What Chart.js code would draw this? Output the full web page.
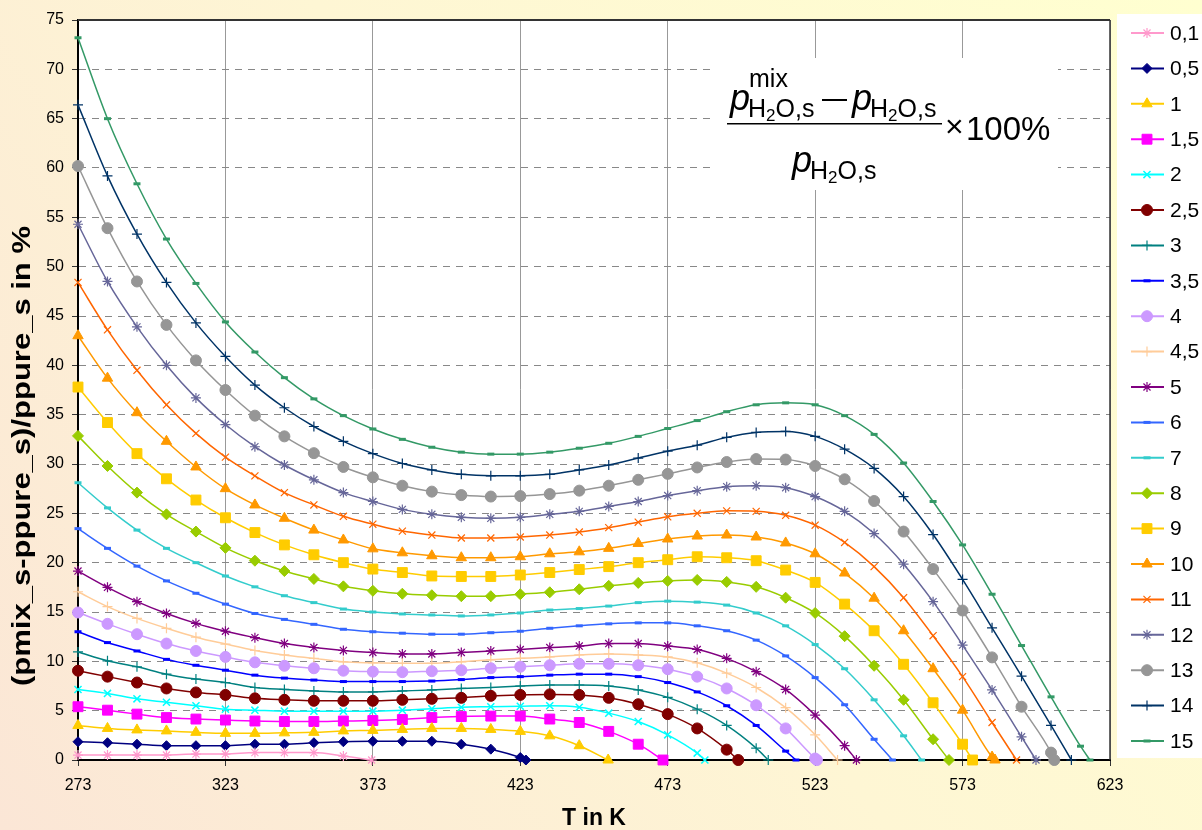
<!DOCTYPE html>
<html>
<head>
<meta charset="utf-8">
<script src="https://cdn.jsdelivr.net/npm/chart.js@4.4.1/dist/chart.umd.min.js"></script>
<style>
  html, body { margin: 0; padding: 0; background: #fff; }
  canvas { display: block; }
</style>
</head>
<body>
<canvas id="dampfdruck" width="1202" height="830"></canvas>
<script>
// Temperaturen in K (Stützstellen alle 10 K)
const temps = [273, 283, 293, 303, 313, 323, 333, 343, 353, 363, 373, 383, 393, 403, 413, 423, 433, 443,
  453, 463, 473, 483, 493, 503, 513, 523, 533, 543, 553, 563, 573, 583, 593, 603, 613];
const xTicks = [273, 323, 373, 423, 473, 523, 573, 623];

// Kurvennamen (Legende)
const seriesNames = ["0,1", "0,5", "1", "1,5", "2", "2,5", "3", "3,5", "4", "4,5", "5",
  "6", "7", "8", "9", "10", "11", "12", "13", "14", "15"];

// Abweichung in % je Kurve, ab 273 K; endT = Temperatur, bei der die Kurve 0 erreicht
const s0_1 = [0.5, 0.5, 0.5, 0.5, 0.6, 0.6, 0.75, 0.75, 0.75, 0.4];
const s0_5 = [1.85, 1.75, 1.6, 1.45, 1.45, 1.45, 1.6, 1.6, 1.75, 1.85, 1.9, 1.9, 1.9, 1.6, 1.1, 0.25];
const s1 = [3.5, 3.2, 3.05, 2.95, 2.8, 2.7, 2.7, 2.75, 2.8, 2.95, 3.0, 3.1, 3.2, 3.2, 3.1, 2.9, 2.45, 1.45];
const s1_5 = [5.4, 5.05, 4.65, 4.3, 4.15, 4.05, 3.95, 3.9, 3.9, 3.95, 4.0, 4.1, 4.3, 4.4, 4.45, 4.45,
  4.15, 3.8, 2.9, 1.6];
const s2 = [7.15, 6.75, 6.2, 5.85, 5.5, 5.15, 5.05, 4.95, 4.95, 4.95, 4.95, 5.05, 5.2, 5.35, 5.4, 5.45,
  5.5, 5.35, 4.75, 3.9, 2.55, 0.7];
const s2_5 = [9.05, 8.45, 7.85, 7.25, 6.85, 6.6, 6.25, 6.1, 6.0, 6.0, 6.0, 6.1, 6.2, 6.3, 6.5, 6.6,
  6.65, 6.6, 6.3, 5.65, 4.65, 3.2, 1.05];
const s3 = [10.95, 10.05, 9.45, 8.7, 8.2, 7.85, 7.35, 7.15, 7.0, 6.9, 6.9, 7.0, 7.1, 7.25, 7.35, 7.5,
  7.6, 7.6, 7.5, 7.1, 6.35, 5.15, 3.5, 1.2];
const s3_5 = [13.0, 11.9, 11.05, 10.2, 9.6, 9.1, 8.6, 8.3, 8.1, 7.95, 7.95, 7.95, 8.0, 8.15, 8.35, 8.45,
  8.6, 8.7, 8.7, 8.45, 7.85, 6.9, 5.5, 3.5, 0.9];
const s4 = [14.95, 13.8, 12.75, 11.8, 11.05, 10.45, 9.9, 9.55, 9.3, 9.05, 8.95, 8.9, 9.0, 9.1, 9.3, 9.45,
  9.6, 9.75, 9.75, 9.6, 9.2, 8.45, 7.25, 5.55, 3.2, 0.15];
const s4_5 = [17.05, 15.55, 14.35, 13.35, 12.45, 11.75, 11.1, 10.65, 10.3, 9.95, 9.85, 9.8, 9.8, 9.95,
  10.15, 10.3, 10.45, 10.65, 10.75, 10.65, 10.45, 9.85, 8.8, 7.35, 5.3, 2.55];
const s5 = [19.15, 17.5, 16.05, 14.85, 13.85, 13.05, 12.4, 11.8, 11.4, 11.1, 10.9, 10.75, 10.75, 10.9,
  11.05, 11.2, 11.4, 11.55, 11.8, 11.8, 11.55, 11.2, 10.3, 8.95, 7.15, 4.55, 1.45];
const s6 = [23.45, 21.45, 19.65, 18.15, 16.9, 15.8, 14.85, 14.25, 13.75, 13.25, 13.0, 12.85, 12.75, 12.75,
  12.9, 13.05, 13.35, 13.6, 13.8, 13.9, 13.9, 13.6, 13.1, 12.15, 10.55, 8.35, 5.6, 2.1];
const s7 = [28.1, 25.55, 23.3, 21.45, 20.0, 18.65, 17.55, 16.65, 15.95, 15.3, 15.0, 14.8, 14.7, 14.6,
  14.7, 14.9, 15.2, 15.35, 15.6, 15.95, 16.1, 16.0, 15.7, 14.9, 13.6, 11.7, 9.25, 6.1, 2.45];
const s8 = [32.85, 29.8, 27.1, 24.9, 23.15, 21.5, 20.2, 19.15, 18.35, 17.6, 17.15, 16.85, 16.7, 16.6,
  16.6, 16.8, 17.0, 17.3, 17.65, 17.95, 18.15, 18.25, 18.05, 17.55, 16.45, 14.9, 12.55, 9.55, 6.1, 2.1];
const s9 = [37.8, 34.2, 31.05, 28.5, 26.35, 24.55, 23.05, 21.8, 20.8, 20.0, 19.35, 19.0, 18.65, 18.6,
  18.6, 18.75, 19.0, 19.3, 19.6, 20.0, 20.3, 20.6, 20.5, 20.2, 19.25, 18.0, 15.8, 13.1, 9.7, 5.8, 1.6];
const s10 = [43.0, 38.7, 35.2, 32.3, 29.7, 27.5, 25.85, 24.5, 23.3, 22.3, 21.4, 21.0, 20.7, 20.5, 20.5,
  20.6, 20.9, 21.1, 21.45, 21.95, 22.4, 22.7, 22.8, 22.6, 22.0, 20.9, 18.95, 16.4, 13.1, 9.25, 5.05, 0.3];
const s11 = [48.4, 43.6, 39.5, 36.0, 33.1, 30.7, 28.8, 27.1, 25.85, 24.7, 23.9, 23.2, 22.8, 22.5, 22.5,
  22.6, 22.8, 23.1, 23.55, 24.1, 24.65, 25.0, 25.25, 25.2, 24.8, 23.8, 22.05, 19.6, 16.45, 12.6, 8.45, 3.8];
const s12 = [54.3, 48.5, 43.9, 40.0, 36.7, 34.0, 31.75, 29.9, 28.4, 27.1, 26.2, 25.4, 24.9, 24.6, 24.5,
  24.6, 24.9, 25.2, 25.7, 26.2, 26.8, 27.3, 27.7, 27.8, 27.6, 26.7, 25.2, 22.95, 19.85, 16.05, 11.65, 7.1, 2.35];
const s13 = [60.2, 53.9, 48.5, 44.1, 40.5, 37.5, 34.9, 32.8, 31.1, 29.7, 28.65, 27.8, 27.2, 26.85, 26.7,
  26.75, 26.95, 27.3, 27.8, 28.4, 29.0, 29.65, 30.2, 30.5, 30.45, 29.8, 28.45, 26.25, 23.15, 19.35, 15.15,
  10.4, 5.4, 0.75];
const s14 = [66.4, 59.2, 53.3, 48.4, 44.3, 40.9, 38.0, 35.7, 33.8, 32.3, 31.05, 30.05, 29.4, 28.95, 28.8,
  28.8, 28.95, 29.4, 29.9, 30.6, 31.3, 31.9, 32.7, 33.2, 33.3, 32.8, 31.5, 29.55, 26.7, 22.85, 18.3, 13.4,
  8.5, 3.5];
const s15 = [73.2, 65.0, 58.4, 52.8, 48.3, 44.4, 41.35, 38.75, 36.6, 34.9, 33.55, 32.5, 31.7, 31.2, 31.0,
  31.0, 31.2, 31.6, 32.1, 32.8, 33.6, 34.4, 35.3, 36.0, 36.2, 36.0, 34.9, 33.0, 30.1, 26.2, 21.8, 16.8,
  11.6, 6.4, 1.4];
const seriesValues = [s0_1, s0_5, s1, s1_5, s2, s2_5, s3, s3_5, s4, s4_5, s5,
  s6, s7, s8, s9, s10, s11, s12, s13, s14, s15];
const endT = [372.6, 424.9, 452.8, 471.4, 485.6, 496.9, 507.1, 516.5, 523.6, 530.6, 537.0,
  549.2, 559.1, 568.4, 576.4, 584.0, 591.3, 597.9, 604.1, 609.9, 616.2];

const FONT = "'Liberation Sans', Arial, sans-serif";
const Y_TITLE = "(pmix_s-ppure_s)/ppure_s in %";

// Farben und Marker im Excel-Stil
const styles = [
  { color: "#FF99CC", point: "star", r: 5, bw: 1.2 },
  { color: "#000080", point: "rectRot", r: 5, bw: 1 },
  { color: "#FFCC00", point: "triangle", r: 6, bw: 1 },
  { color: "#FF00FF", point: "rect", r: 7, bw: 1 },
  { color: "#00FFFF", point: "crossRot", r: 5, bw: 1.5 },
  { color: "#800000", point: "circle", r: 5.5, bw: 1 },
  { color: "#008080", point: "cross", r: 5, bw: 1.2 },
  { color: "#0000FF", point: "line", r: 3.5, bw: 3 },
  { color: "#CC99FF", point: "circle", r: 5.5, bw: 1 },
  { color: "#FFCC99", point: "cross", r: 5, bw: 1.2 },
  { color: "#800080", point: "star", r: 5, bw: 1.2 },
  { color: "#3366FF", point: "line", r: 3.5, bw: 3 },
  { color: "#33CCCC", point: "line", r: 3.5, bw: 3 },
  { color: "#99CC00", point: "rectRot", r: 5.5, bw: 1 },
  { color: "#FFCC00", point: "rect", r: 7, bw: 1 },
  { color: "#FF9900", point: "triangle", r: 6, bw: 1 },
  { color: "#FF6600", point: "crossRot", r: 5, bw: 1.2 },
  { color: "#666699", point: "star", r: 5, bw: 1.2 },
  { color: "#969696", point: "circle", r: 5.5, bw: 1 },
  { color: "#003366", point: "cross", r: 5, bw: 1.2 },
  { color: "#339966", point: "line", r: 3.5, bw: 3 }
];

const datasets = seriesValues.map((vals, i) => {
  const pts = vals.map((v, j) => ({ x: temps[j], y: v }));
  pts.push({ x: endT[i], y: 0 });
  const st = styles[i];
  return {
    label: seriesNames[i],
    data: pts,
    borderColor: st.color,
    backgroundColor: st.color,
    borderWidth: 1.5,
    pointStyle: st.point,
    pointRadius: st.r,
    pointBorderWidth: st.bw,
    pointBackgroundColor: st.color,
    pointBorderColor: st.color,
    cubicInterpolationMode: "monotone",
    clip: false
  };
});

// Hintergrund, weiße Zeichenfläche, Formelkasten, Rahmen und Legende
const decoration = {
  id: "decoration",
  beforeDraw(chart) {
    const { ctx, chartArea: a, width, height } = chart;
    ctx.save();
    const g = ctx.createLinearGradient(width, 0, 0, height);
    g.addColorStop(0, "#FFFFD0");
    g.addColorStop(0.5, "#FEF6D4");
    g.addColorStop(1, "#FBE6D6");
    ctx.fillStyle = g;
    ctx.fillRect(0, 0, width, height);
    ctx.fillStyle = "#fff";
    ctx.fillRect(a.left, a.top, a.right - a.left, a.bottom - a.top);
    ctx.fillRect(1117, 14, width - 1117, 744);
    ctx.restore();
  },
  beforeDatasetsDraw(chart) {
    const ctx = chart.ctx;
    ctx.save();
    ctx.fillStyle = "#fff";
    ctx.fillRect(712, 58, 346, 132);
    ctx.fillStyle = "#000";
    ctx.textAlign = "left";
    ctx.textBaseline = "alphabetic";
    const big = "italic 36px " + FONT, sub = "25px " + FONT, tiny = "17px " + FONT;
    // p mit Index H2O,s (optional hochgestellt)
    function pSym(x, base, sup) {
      ctx.font = big;
      ctx.fillText("p", x, base);
      let sx = x + ctx.measureText("p").width - 2;
      ctx.font = sub;
      if (sup) ctx.fillText(sup, sx + 1, base - 23);
      ctx.fillText("H", sx, base + 7);
      sx += ctx.measureText("H").width;
      ctx.font = tiny;
      ctx.fillText("2", sx, base + 11);
      sx += ctx.measureText("2").width;
      ctx.font = sub;
      ctx.fillText("O,s", sx, base + 7);
    }
    pSym(730, 110, "mix");
    ctx.fillRect(822, 99, 25, 2);
    pSym(852, 110);
    ctx.fillRect(727, 123, 215, 1.5);
    pSym(792, 172);
    ctx.font = "32px " + FONT;
    ctx.fillText("\u00D7", 945, 137);
    ctx.font = "33px " + FONT;
    ctx.fillText("100%", 966, 140);
    ctx.restore();
  },
  afterDraw(chart) {
    const { ctx, chartArea: a } = chart;
    ctx.save();
    ctx.strokeStyle = "#333";
    ctx.lineWidth = 2;
    ctx.beginPath();
    ctx.moveTo(a.left, a.top);
    ctx.lineTo(a.right, a.top);
    ctx.stroke();
    ctx.lineWidth = 1.5;
    ctx.beginPath();
    ctx.moveTo(a.right, a.top);
    ctx.lineTo(a.right, a.bottom);
    ctx.stroke();

    // y-Achsentitel, in Laufrichtung gestreckt
    ctx.save();
    ctx.translate(23, 456);
    ctx.rotate(-Math.PI / 2);
    ctx.scale(1.24, 1);
    ctx.fillStyle = "#000";
    ctx.font = "bold 25px " + FONT;
    ctx.textAlign = "center";
    ctx.textBaseline = "middle";
    ctx.fillText(Y_TITLE, 0, 0);
    ctx.restore();

    // Legende
    chart.data.datasets.forEach((ds, i) => {
      const y = 33 + i * 35.4;
      ctx.strokeStyle = ds.borderColor;
      ctx.fillStyle = ds.borderColor;
      ctx.lineWidth = 2;
      ctx.beginPath();
      ctx.moveTo(1131, y);
      ctx.lineTo(1164, y);
      ctx.stroke();
      ctx.lineWidth = ds.pointBorderWidth;
      Chart.helpers.drawPoint(ctx, {
        pointStyle: ds.pointStyle, radius: ds.pointRadius,
        borderWidth: ds.pointBorderWidth, rotation: 0
      }, 1147, y);
      ctx.fillStyle = "#000";
      ctx.font = "21px " + FONT;
      ctx.textBaseline = "middle";
      ctx.textAlign = "left";
      ctx.fillText(ds.label, 1170, y + 1);
    });
    ctx.restore();
  }
};

new Chart(document.getElementById("dampfdruck"), {
  type: "line",
  data: { datasets: datasets },
  options: {
    responsive: false,
    animation: false,
    layout: { padding: { top: 20, right: 92, left: 0, bottom: 0 } },
    plugins: {
      legend: { display: false },
      tooltip: { enabled: false }
    },
    scales: {
      x: {
        type: "linear",
        min: 273,
        max: 623,
        afterBuildTicks: (scale) => {
          scale.ticks = xTicks.map((v) => ({ value: v }));
        },
        afterFit: (scale) => { scale.height = 70; },
        grid: { color: "#999", lineWidth: 1, tickLength: 6, tickColor: "#333" },
        border: { color: "#000", width: 2 },
        ticks: { color: "#000", font: { family: FONT, size: 16 }, padding: 10, maxRotation: 0, autoSkip: false },
        title: {
          display: true, text: "T in K", color: "#000",
          font: { family: FONT, size: 23, weight: "bold", lineHeight: 1 }, padding: 0
        }
      },
      y: {
        min: 0,
        max: 75,
        afterFit: (scale) => { scale.width = 78; },
        grid: { color: "#888", lineWidth: 1, tickLength: 6, tickColor: "#333", tickBorderDash: [] },
        border: { color: "#000", width: 2, dash: [7, 6] },
        ticks: { stepSize: 5, color: "#000", font: { family: FONT, size: 16 }, padding: 8 }
      }
    }
  },
  plugins: [decoration]
});
</script>
</body>
</html>
